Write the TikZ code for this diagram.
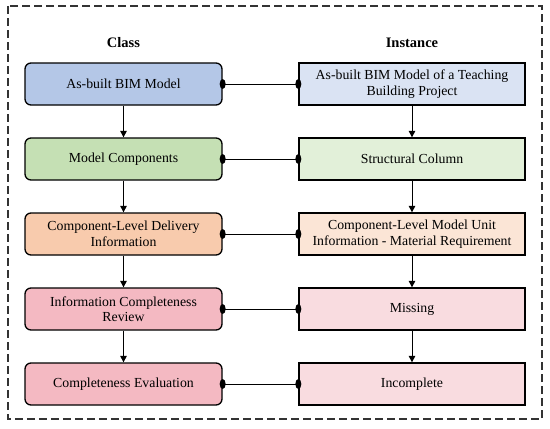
\documentclass[tikz,border=0pt]{standalone}
\usepackage{fontspec}
\setmainfont{Liberation Serif}
\usetikzlibrary{arrows.meta}
\definecolor{cblue}{HTML}{B4C7E7}
\definecolor{iblue}{HTML}{DAE3F3}
\definecolor{cgreen}{HTML}{C5E0B4}
\definecolor{igreen}{HTML}{E2F0D9}
\definecolor{corange}{HTML}{F8CBAD}
\definecolor{iorange}{HTML}{FBE5D6}
\definecolor{cpink}{HTML}{F4B9C2}
\definecolor{ipink}{HTML}{F9DCE0}
\tikzset{
  box/.style={draw=black, line width=1.3pt, minimum width=197pt, minimum height=42pt, align=center, font=\fontsize{13.8}{15.5}\selectfont, inner sep=1pt},
  classbox/.style={box, rounded corners=6pt},
  instbox/.style={box, minimum width=226pt},
  flow/.style={line width=1pt, -{Triangle[length=6.5pt,width=6.5pt]}},
  link/.style={line width=1pt},
  title/.style={font=\fontsize{14.5}{16}\selectfont\bfseries}
}
\begin{document}
\begin{tikzpicture}[x=1pt,y=-1pt]
\useasboundingbox (0,0) rectangle (550,429);
\draw[line width=1.2pt, dash pattern=on 8pt off 4pt, black!80] (8,6) rectangle (542,419);
\node[title] (tc) at (123.5,43) {Class};
\node[title] (ti) at (412,43) {Instance};
\node[classbox, fill=cblue] (c1) at (123.5,84) {As-built BIM Model};
\node[classbox, fill=cgreen] (c2) at (123.5,159) {Model Components};
\node[classbox, fill=corange] (c3) at (123.5,234) {Component-Level Delivery\\Information};
\node[classbox, fill=cpink] (c4) at (123.5,309) {Information Completeness\\Review};
\node[classbox, fill=cpink] (c5) at (123.5,384) {Completeness Evaluation};
\node[instbox, fill=iblue] (i1) at (412,84) {As-built BIM Model of a Teaching\\Building Project};
\node[instbox, fill=igreen] (i2) at (412,159) {Structural Column};
\node[instbox, fill=iorange] (i3) at (412,234) {Component-Level Model Unit\\Information - Material Requirement};
\node[instbox, fill=ipink] (i4) at (412,309) {Missing};
\node[instbox, fill=ipink] (i5) at (412,384) {Incomplete};
\foreach \a/\b in {c1/c2,c2/c3,c3/c4,c4/c5,i1/i2,i2/i3,i3/i4,i4/i5}
  \draw[flow] (\a.south) -- (\b.north);
\foreach \n in {1,...,5}{
  \draw[link] (c\n.east) -- (i\n.west);
  \fill (c\n.east) ellipse (3pt and 5pt);
  \fill (i\n.west) ellipse (3pt and 5pt);
}
\end{tikzpicture}
\end{document}
